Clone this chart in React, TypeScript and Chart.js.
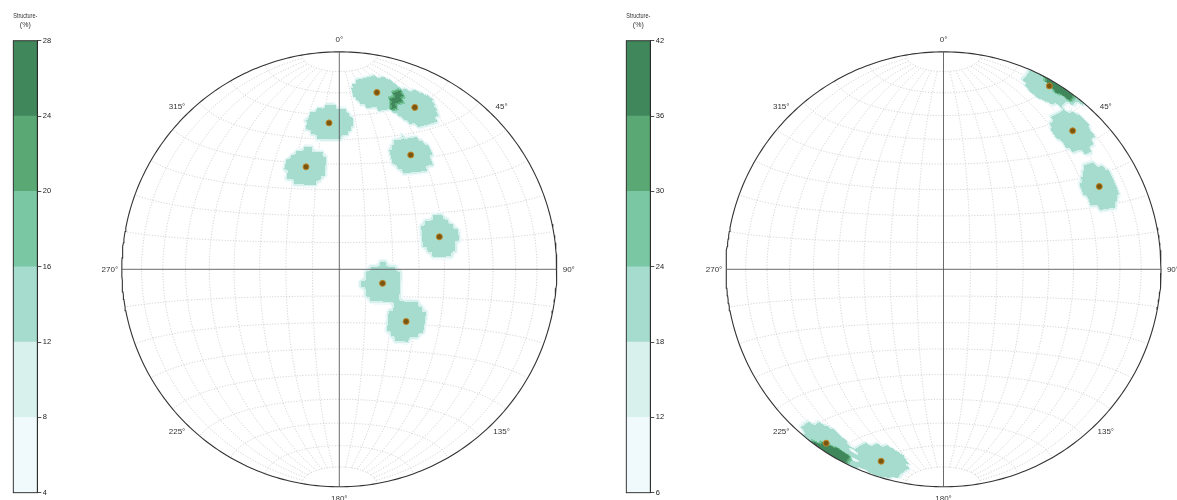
import { useEffect, useRef } from 'react';
import { Chart, registerables } from 'chart.js';

Chart.register(...registerables);

// ---- data ----
const leftTrends = [12, 25, 356, 342, 32, 72, 108, 128];
const leftPlunges = [18, 19, 33, 49, 38, 50, 73, 58];
const rightTrends = [30, 43, 62, 214, 198];
const rightPlunges = [3, 14, 20, 4, 8];
const leftLevels = [4, 8, 12, 16, 20, 24, 28];
const rightLevels = [6, 12, 18, 24, 30, 36, 42];
const bandColors = ['#f0f9fc', '#d9f1ec', '#a6dccd', '#7ac7a4', '#5aa873', '#40875c'];
const azimuths = [0, 45, 90, 135, 180, 225, 270, 315];
const azimuthLabels = ['0°', '45°', '90°', '135°', '180°', '225°', '270°', '315°'];
const colorbarTitle = ['Structure-', '(%)'];
const gridStep = 10;
const gridCap = 80;
const densityGridSize = 100;
const countingCos = 0.99;

const FONT = '"Liberation Sans", Arial, sans-serif';
const D2R = Math.PI / 180;

function lineToXY(trend: number, plunge: number) {
  const t = trend * D2R, p = plunge * D2R;
  const e = Math.cos(p) * Math.sin(t), n = Math.cos(p) * Math.cos(t), d = Math.sin(p);
  const k = 1 / Math.sqrt(1 + d);
  return { x: e * k, y: n * k };
}

function lonLatToXY(lon: number, lat: number) {
  const lo = lon * D2R, la = lat * D2R;
  const e = Math.cos(la) * Math.sin(lo), n = Math.sin(la), d = Math.max(0, Math.cos(la) * Math.cos(lo));
  const k = 1 / Math.sqrt(1 + d);
  return { x: e * k, y: n * k };
}

function unitVector(trend: number, plunge: number) {
  const t = trend * D2R, p = plunge * D2R;
  return [Math.cos(p) * Math.sin(t), Math.cos(p) * Math.cos(t), Math.sin(p)];
}

function densityGrid(trends: number[], plunges: number[]) {
  const G = densityGridSize;
  const us = trends.map((t, i) => unitVector(t, plunges[i]));
  const N = us.length;
  const grid = new Float64Array(G * G);
  for (let j = 0; j < G; j++) {
    const lat = (-90 + (180 * j) / (G - 1)) * D2R;
    for (let i = 0; i < G; i++) {
      const lon = (-90 + (180 * i) / (G - 1)) * D2R;
      const v = [Math.cos(lat) * Math.sin(lon), Math.sin(lat), Math.cos(lat) * Math.cos(lon)];
      let c = 0;
      for (const u of us) {
        const dot = Math.abs(u[0] * v[0] + u[1] * v[1] + u[2] * v[2]);
        if (dot >= countingCos) c++;
      }
      grid[j * G + i] = (100 * c) / N;
    }
  }
  return grid;
}

function bandIndex(v: number, levels: number[]) {
  for (let k = 0; k < levels.length - 1; k++) {
    if (v >= levels[k] && v <= levels[k + 1] && v > 0) return k;
  }
  return -1;
}

function makeDensityPlugin(grid: Float64Array, levels: number[]) {
  return {
    id: 'densityFill',
    beforeDatasetDraw(chart: any, args: any) {
      if (chart.data.datasets[args.index].label !== 'circle') return;
      const G = densityGridSize;
      const { left, right, top, bottom } = chart.chartArea;
      const xs = chart.scales.x, ys = chart.scales.y;
      const ctx = chart.ctx;
      const paths = bandColors.map(() => new Path2D());
      for (let py = Math.floor(top); py < Math.ceil(bottom); py++) {
        const Y = ys.getValueForPixel(py + 0.5);
        for (let px = Math.floor(left); px < Math.ceil(right); px++) {
          const X = xs.getValueForPixel(px + 0.5);
          const r2 = X * X + Y * Y;
          if (r2 > 1) continue;
          const z = 1 - r2;
          const s = Math.sqrt(2 - r2);
          const e = X * s, n = Math.max(-1, Math.min(1, Y * s));
          const lat = Math.asin(n) / D2R, lon = Math.atan2(e, z) / D2R;
          const fi = ((lon + 90) / 180) * (G - 1), fj = ((lat + 90) / 180) * (G - 1);
          const i0 = Math.min(G - 2, Math.max(0, Math.floor(fi)));
          const j0 = Math.min(G - 2, Math.max(0, Math.floor(fj)));
          const a = fi - i0, b = fj - j0;
          const v =
            grid[j0 * G + i0] * (1 - a) * (1 - b) +
            grid[j0 * G + i0 + 1] * a * (1 - b) +
            grid[(j0 + 1) * G + i0] * (1 - a) * b +
            grid[(j0 + 1) * G + i0 + 1] * a * b;
          const k = bandIndex(v, levels);
          if (k >= 0) paths[k].rect(px, py, 1, 1);
        }
      }
      ctx.save();
      paths.forEach((p, k) => {
        ctx.fillStyle = bandColors[k];
        ctx.fill(p);
      });
      ctx.restore();
    },
  };
}

const labelPlugin = {
  id: 'azimuthLabels',
  afterDraw(chart: any) {
    const ctx = chart.ctx;
    const xs = chart.scales.x, ys = chart.scales.y;
    ctx.save();
    ctx.font = `8px ${FONT}`;
    ctx.fillStyle = '#333';
    ctx.textAlign = 'center';
    ctx.textBaseline = 'middle';
    azimuths.forEach((a, k) => {
      const px = xs.getPixelForValue(1.055 * Math.sin(a * D2R));
      const py = ys.getPixelForValue(1.055 * Math.cos(a * D2R));
      ctx.fillText(azimuthLabels[k], px, py);
    });
    ctx.restore();
  },
};

function gridDatasets() {
  const sets: any[] = [];
  const gridStyle = {
    showLine: true, pointRadius: 0, borderColor: '#cacaca', borderWidth: 0.8,
    borderDash: [1.2, 1.6], fill: false, tension: 0, order: 3, clip: false,
  };
  for (let lon = -gridCap; lon <= gridCap; lon += gridStep) {
    if (lon === 0) continue;
    const data = [];
    for (let lat = -gridCap; lat <= gridCap; lat += 1) data.push(lonLatToXY(lon, lat));
    sets.push({ label: 'grid', data, ...gridStyle });
  }
  for (let lat = -gridCap; lat <= gridCap; lat += gridStep) {
    if (lat === 0) continue;
    const data = [];
    for (let lon = -89; lon <= 89; lon += 1) data.push(lonLatToXY(lon, lat));
    sets.push({ label: 'grid', data, ...gridStyle });
  }
  return sets;
}

function circleData() {
  const data = [];
  for (let a = 0; a <= 360; a += 1) data.push({ x: Math.sin(a * D2R), y: Math.cos(a * D2R) });
  return data;
}

function Stereonet(props: {
  trends: number[]; plunges: number[]; levels: number[];
  left: number; width: number; pad: { left: number; right: number; top: number; bottom: number };
}) {
  const ref = useRef<HTMLCanvasElement>(null);
  useEffect(() => {
    const grid = densityGrid(props.trends, props.plunges);
    const points = props.trends.map((t, i) => lineToXY(t, props.plunges[i]));
    const chart = new Chart(ref.current as HTMLCanvasElement, {
      type: 'scatter',
      data: {
        datasets: [
          {
            label: 'points', data: points, pointRadius: 3, pointBackgroundColor: '#7a5710',
            pointBorderColor: '#c08626', pointBorderWidth: 1, showLine: false, order: 0, clip: false,
          } as any,
          {
            label: 'cross', data: [{ x: -1, y: 0 }, { x: 1, y: 0 }, { x: NaN, y: NaN }, { x: 0, y: -1 }, { x: 0, y: 1 }],
            showLine: true, spanGaps: false, pointRadius: 0, borderColor: '#5a5a5a', borderWidth: 0.9, order: 1, clip: false,
          },
          {
            label: 'circle', data: circleData(), showLine: true, pointRadius: 0,
            borderColor: '#333', borderWidth: 1.1, order: 2, clip: false,
          },
          ...gridDatasets(),
        ],
      },
      options: {
        responsive: false,
        animation: false,
        events: [],
        layout: { padding: props.pad },
        plugins: { legend: { display: false }, tooltip: { enabled: false } },
        scales: {
          x: { type: 'linear', min: -1, max: 1, display: false },
          y: { type: 'linear', min: -1, max: 1, display: false },
        },
      },
      plugins: [makeDensityPlugin(grid, props.levels), labelPlugin],
    });
    return () => chart.destroy();
  }, []);
  return (
    <canvas ref={ref} width={props.width} height={500}
      style={{ position: 'absolute', left: props.left, top: 0 }} />
  );
}

const framePlugin = {
  id: 'cbFrame',
  afterDraw(chart: any) {
    const { left, right, top, bottom } = chart.chartArea;
    const ctx = chart.ctx;
    ctx.save();
    ctx.strokeStyle = '#222';
    ctx.lineWidth = 0.9;
    ctx.strokeRect(left, top, right - left, bottom - top);
    ctx.restore();
  },
};

function Colorbar(props: { levels: number[]; left: number }) {
  const ref = useRef<HTMLCanvasElement>(null);
  useEffect(() => {
    const lv = props.levels;
    const chart = new Chart(ref.current as HTMLCanvasElement, {
      type: 'bar',
      data: {
        labels: [''],
        datasets: bandColors.map((c, k) => ({
          label: String(k), data: [[lv[k], lv[k + 1]]] as any, backgroundColor: c,
          borderWidth: 0, barPercentage: 1, categoryPercentage: 1, grouped: false,
        })),
      },
      options: {
        responsive: false,
        animation: false,
        events: [],
        layout: { padding: { left: 13.3, right: 0, top: 0, bottom: 7.3 } },
        plugins: {
          legend: { display: false },
          tooltip: { enabled: false },
          title: {
            display: true, text: colorbarTitle, fullSize: false, color: '#333',
            font: { family: FONT, size: 7, weight: 'normal', lineHeight: 1.33 },
            padding: { top: 11, bottom: 11.1 },
          },
        },
        scales: {
          x: { display: false },
          y: {
            position: 'right', min: lv[0], max: lv[lv.length - 1],
            afterFit: (s: any) => { s.width = 32.7; },
            ticks: { stepSize: lv[1] - lv[0], padding: 1.5, color: '#222', font: { family: FONT, size: 7.5 } },
            grid: { drawOnChartArea: false, tickLength: 4, color: '#222', lineWidth: 0.8 },
            border: { display: true, color: '#222', width: 0.9 },
          },
        },
      } as any,
      plugins: [framePlugin],
    });
    return () => chart.destroy();
  }, []);
  return (
    <canvas ref={ref} width={70} height={500}
      style={{ position: 'absolute', left: props.left, top: 0 }} />
  );
}

export default function App() {
  return (
    <div style={{ position: 'absolute', left: 0, top: 0, width: 1177, height: 500, overflow: 'hidden', background: '#fff' }}>
      <Colorbar levels={leftLevels} left={0} />
      <Stereonet trends={leftTrends} plunges={leftPlunges} levels={leftLevels}
        left={100} width={480} pad={{ left: 21.8, right: 23.2, top: 51.8, bottom: 13.2 }} />
      <Colorbar levels={rightLevels} left={613} />
      <Stereonet trends={rightTrends} plunges={rightPlunges} levels={rightLevels}
        left={700} width={477} pad={{ left: 26, right: 16, top: 51.8, bottom: 13.2 }} />
    </div>
  );
}
